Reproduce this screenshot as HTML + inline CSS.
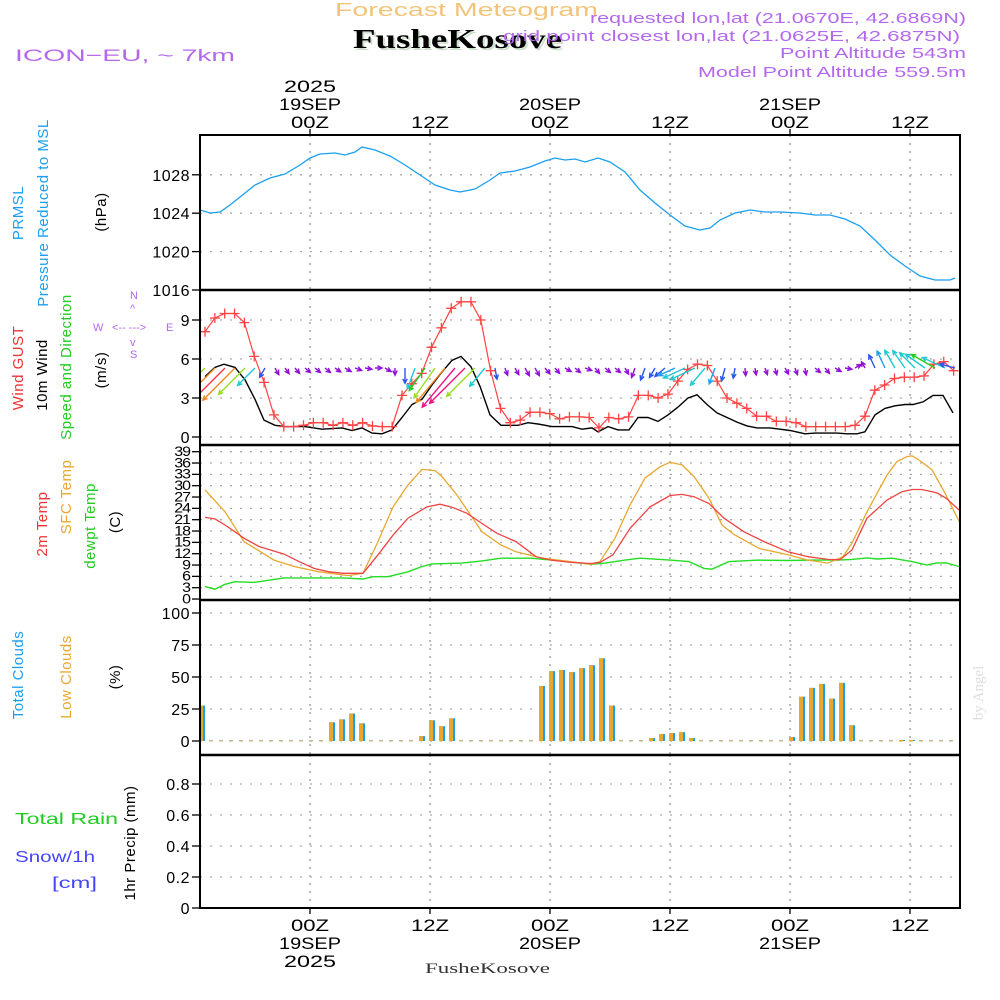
<!DOCTYPE html>
<html><head><meta charset="utf-8"><title>Forecast Meteogram FusheKosove</title>
<style>
html,body{margin:0;padding:0;background:#fff;}
svg{display:block;font-family:"Liberation Sans",sans-serif;}
</style></head>
<body>
<svg id="chart" width="1000" height="1000" viewBox="0 0 1000 1000" xmlns="http://www.w3.org/2000/svg">
<defs>
<clipPath id="cp1"><rect x="200" y="135" width="760" height="155"/></clipPath>
<clipPath id="cp2"><rect x="200" y="290" width="760" height="155"/></clipPath>
<clipPath id="cp3"><rect x="200" y="445" width="760" height="155"/></clipPath>
<clipPath id="cp4"><rect x="200" y="600" width="760" height="155"/></clipPath>
<clipPath id="cp5"><rect x="200" y="755" width="760" height="153"/></clipPath>
</defs>
<text x="335" y="16" font-size="18" fill="#f2c47a" textLength="263" lengthAdjust="spacingAndGlyphs">Forecast Meteogram</text>
<text x="355" y="50" font-size="27" font-weight="bold" fill="#cfe0cf" font-family="Liberation Serif,serif" textLength="209" lengthAdjust="spacingAndGlyphs">FusheKosove</text>
<text x="353" y="48" font-size="27" font-weight="bold" fill="#000" font-family="Liberation Serif,serif" textLength="209" lengthAdjust="spacingAndGlyphs">FusheKosove</text>
<text x="15" y="61" font-size="17" fill="#b468ee" textLength="220" lengthAdjust="spacingAndGlyphs">ICON−EU, ~ 7km</text>
<g font-size="14.5" fill="#b468ee">
<text x="590" y="23" textLength="376" lengthAdjust="spacingAndGlyphs">requested lon,lat (21.0670E, 42.6869N)</text>
<text x="503" y="41" textLength="457" lengthAdjust="spacingAndGlyphs">grid point closest lon,lat (21.0625E, 42.6875N)</text>
<text x="780" y="58" textLength="186" lengthAdjust="spacingAndGlyphs">Point Altitude 543m</text>
<text x="698" y="77" textLength="268" lengthAdjust="spacingAndGlyphs">Model Point Altitude 559.5m</text>
</g>
<g id="axes"></g>
<g id="labels" font-size="15"></g>
<text x="425" y="973" font-size="15" font-family="Liberation Serif,serif" fill="#333" textLength="125" lengthAdjust="spacingAndGlyphs">FusheKosove</text>
<text transform="translate(983,693) rotate(-90)" text-anchor="middle" font-size="15" fill="#ddd" font-family="Liberation Serif,serif">by Angel</text>
</svg>
<script>
// ---- data ----
const pTimes=[-11,-10,-9,-8,-7,-5.5,-4,-2.5,-1,0,1,2.5,3.5,4.5,5.2,6.5,8,9.5,11,12.5,14,15,16.5,18,19,20.5,22,23.5,24.5,25.5,26.5,27.5,28.8,30,31.5,33,34.5,36,37.5,39,40,41,42.5,44,45.5,47,49,50.5,52,53.5,55,56.5,58,59.5,61,62.5,64,64.5];
const pVals=[1024.33,1024.02,1024.13,1024.85,1025.69,1026.94,1027.67,1028.08,1029.02,1029.75,1030.17,1030.27,1030.06,1030.38,1030.9,1030.58,1029.96,1029.02,1027.98,1026.94,1026.42,1026.21,1026.52,1027.46,1028.19,1028.4,1028.81,1029.44,1029.75,1029.54,1029.65,1029.33,1029.75,1029.33,1028.29,1026.42,1025.06,1023.81,1022.67,1022.25,1022.46,1023.29,1024.02,1024.33,1024.13,1024.13,1024.02,1023.81,1023.81,1023.4,1022.67,1021.21,1019.65,1018.5,1017.46,1017.04,1017.04,1017.25];
const gustStart=-10.5, gustStep=0.985;
const gustVals=[8.1,9.15,9.5,9.5,8.8,6.2,4.2,1.7,0.8,0.8,0.9,1.1,1.1,0.9,1.1,0.9,1.1,0.85,0.8,0.8,3.2,4.1,4.9,6.9,8.4,9.9,10.4,10.4,9.0,5.1,2.2,1.1,1.3,1.9,1.9,1.8,1.4,1.55,1.55,1.5,0.7,1.5,1.4,1.55,3.2,3.2,3.0,3.3,4.3,5.2,5.6,5.5,4.3,3.0,2.6,2.2,1.6,1.6,1.2,1.2,1.1,0.8,0.8,0.8,0.8,0.8,0.9,1.6,3.6,4.0,4.5,4.6,4.6,4.7,5.6,5.8,5.1];
const windTimes=[-10.5,-9.5,-8.6,-7.5,-6.5,-5.5,-4.6,-3.5,-2.5,-0.5,1.2,3.2,4.2,5.2,6.2,7.2,8.2,9.2,10.2,11.2,12.2,13.2,14.2,15.1,16.1,17,18,19.1,20.8,21.8,22.8,24.2,26.2,27.2,28.2,28.8,29.8,30.8,31.9,32.8,33.8,34.8,35.8,36.8,37.8,38.7,39.7,40.7,41.7,42.7,43.7,44.7,46,47,48,49.5,50.5,51.7,52.7,53.7,54.7,55.5,56.5,57.5,58.5,59.5,60.3,61.3,62.3,63.3,64.3];
const windVals=[4.65,5.35,5.6,5.35,4.4,2.9,1.3,0.9,0.8,0.8,0.6,0.7,0.5,0.7,0.3,0.25,0.55,1.5,2.5,2.9,4.0,5.0,5.9,6.2,5.4,3.9,1.7,0.9,0.9,1.1,1.0,0.8,0.8,0.6,0.7,0.4,0.8,0.55,0.55,1.5,1.5,1.2,1.7,2.3,3.0,3.25,2.5,1.85,1.5,1.15,0.85,0.7,0.7,0.6,0.5,0.25,0.3,0.3,0.3,0.25,0.25,0.4,1.7,2.2,2.4,2.5,2.5,2.7,3.2,3.2,1.85];
const arrowStart=-10.5;
const windDir=[225,225,225,225,225,225,210,150,145,140,130,130,130,125,120,110,100,90,120,180,180,200,215,215,220,220,225,225,220,170,160,150,150,150,140,140,120,130,110,140,130,130,150,200,200,210,230,245,245,245,220,200,195,190,175,170,160,165,150,160,170,130,140,120,100,60,330,335,335,330,325,315,305,300,295,285];
const t2Times=[-10.5,-9.5,-8.5,-7.5,-6.6,-5.1,-2.6,-1.1,0.4,1.9,3.3,5.3,6.8,8.3,9.8,11.7,13,14.2,15.7,17.2,18.7,20.6,22.6,24.1,26.1,28.1,29,30.3,32,34,36,37.2,38.4,39.9,41.4,43.4,45.4,47.8,49.8,51.8,53,54.2,55.7,57.7,59.2,60.2,61.2,62.7,63.6,64.9];
const t2Vals=[21.6,21.2,19.6,17.8,16.1,13.9,11.9,9.9,8.1,7.2,6.8,6.8,11.7,16.9,21.4,24.4,25.1,24.3,22.7,20.0,17.4,15.2,11.2,10.3,9.7,9.4,9.7,11.7,18.7,24.4,27.4,27.7,27.1,25.3,21.4,17.8,15.2,12.5,11.2,10.5,10.4,13.0,21.4,26.2,28.4,29.0,29.0,28.1,26.7,23.6];
const sfcTimes=[-10.5,-8.5,-6.6,-3.6,-1.6,0.9,3.8,5.3,6.8,8.3,9.8,11.2,12.5,13.2,14.7,17.2,19.1,20.6,23.1,26.1,28.1,29,30.5,32,33.5,35,36,37.2,38.4,39.9,41.2,42.4,44.9,47.8,49.8,51.8,53.3,54.2,55.7,57.7,58.7,59.7,60.2,60.9,62.2,63.6,64.9];
const sfcVals=[28.9,23.1,15.2,10.3,8.6,7.2,6.2,6.8,15.2,24.4,30.2,34.3,34.0,32.4,27.5,17.8,14.3,12.5,10.9,9.9,9.2,9.9,16.1,24.9,32.0,35.0,36.2,35.5,32.4,26.7,19.6,17.1,13.4,11.7,10.3,9.5,11.2,14.8,23.1,32.8,36.4,37.7,37.9,36.8,34.2,27.5,20.6];
const dewTimes=[-10.5,-9.5,-8.5,-7.5,-5.6,-3.6,-2.6,0.4,3.3,5.3,6.3,7.8,9.8,11.2,12.2,15.2,17.2,19.1,22.1,25.1,28.1,29.5,31.5,33,36,37.9,39.4,40.2,41.9,44.9,47.8,50.3,52.8,54.2,55.7,56.7,58.2,60.2,61.7,62.6,63.6,64.9];
const dewVals=[3.3,2.6,3.9,4.6,4.4,5.2,5.6,5.6,5.6,5.3,5.9,5.9,7.2,8.6,9.3,9.5,10.1,10.8,10.8,10.1,9.2,9.5,10.3,10.8,10.3,9.9,8.1,7.9,9.9,10.3,10.2,10.3,10.3,10.5,10.9,10.6,10.8,9.9,9.0,9.5,9.6,8.6];
const cloudStart=-11;
const totalClouds=[27.7,0,0,0,0,0,0,0,0,0,0,0,0,14.6,16.9,21.5,13.8,0,0,0,0,0,3.8,16.2,11.5,17.7,0,0,0,0,0,0,0,0,43,54.6,55.4,53.8,56.9,59.2,64.6,27.7,0,0,0,2.3,5.4,6.2,6.9,2.3,0,0,0,0,0,0,0,0,0,3.1,34.6,41.5,44.6,33.1,45.4,12.3,0,0,0,0,0.8,0.8,0,0,0,0];
const lowClouds=[27.7,0,0,0,0,0,0,0,0,0,0,0,0,14.6,16.9,21.5,13.8,0,0,0,0,0,3.8,16.2,11.5,17.7,0,0,0,0,0,0,0,0,43,54.6,55.4,53.8,56.9,59.2,64.6,27.7,0,0,0,2.3,5.4,6.2,6.9,2.3,0,0,0,0,0,0,0,0,0,3.1,34.6,41.5,44.6,33.1,45.4,12.3,0,0,0,0,0.8,0.8,0,0,0,0];
const precipVals=[0,0,0,0,0,0,0,0,0,0,0,0,0,0,0,0,0,0,0,0,0,0,0,0,0,0,0,0,0,0,0,0,0,0,0,0,0,0,0,0,0,0,0,0,0,0,0,0,0,0,0,0,0,0,0,0,0,0,0,0,0,0,0,0,0,0,0,0,0,0,0,0,0,0,0,0];
const pTicks=[1016,1020,1024,1028];
const wTicks=[0,3,6,9];
const tTicks=[0,3,6,9,12,15,18,21,24,27,30,33,36,39];
const cTicks=[0,25,50,75,100];
const rTicks=[0,0.2,0.4,0.6,0.8];
const timeTicks=[0,12,24,36,48,60];
const timeLabels=["00Z","12Z","00Z","12Z","00Z","12Z"];
const dayLabels=["19SEP","","20SEP","","21SEP",""];

// ---- scales ----
const L=200,R=960;
const xS=h=>310+10*h;
const pY=v=>290-(v-1016)*9.6;
const wY=v=>437-v*13;
const tY=v=>587.7-(v-3)*3.778;
const cY=v=>741-v*1.28;
const rY=v=>908-v*155;
const NS="http://www.w3.org/2000/svg";
const svg=document.getElementById('chart');
const axes=document.getElementById('axes');
function mk(tag,attrs,parent){const e=document.createElementNS(NS,tag);for(const k in attrs)e.setAttribute(k,attrs[k]);(parent||axes).appendChild(e);return e;}
function line(d,pts,color,w,clip){const e=mk('path',{d:'M'+pts.map(p=>p[0].toFixed(1)+','+p[1].toFixed(1)).join('L'),fill:'none',stroke:color,'stroke-width':w,'clip-path':'url(#'+clip+')'});return e;}

const panels=[
 {top:135,bot:290,ticks:pTicks,y:pY,fmt:v=>String(v),clip:'cp1',name:'pressure'},
 {top:290,bot:445,ticks:wTicks,y:wY,fmt:v=>String(v),clip:'cp2',name:'wind'},
 {top:445,bot:600,ticks:tTicks,y:tY,fmt:v=>String(v),clip:'cp3',name:'temperature'},
 {top:600,bot:755,ticks:cTicks,y:cY,fmt:v=>String(v),clip:'cp4',name:'clouds'},
 {top:755,bot:908,ticks:rTicks,y:rY,fmt:v=>v===0?'0':v.toFixed(1),clip:'cp5',name:'precip'}
];
panels.forEach(p=>{
  const g=mk('g',{});
  
  
  timeTicks.forEach(t=>{
    const gl=mk('line',{x1:xS(t),x2:xS(t),y1:p.top,y2:p.bot,stroke:'#999','stroke-width':1.3,'stroke-dasharray':'2,6'},g);
    
    
  });
  p.ticks.forEach(v=>{
    const y=p.y(v);
    if(y>p.top+2&&y<p.bot-2){
      const hl=mk('line',{x1:L,x2:R,y1:y,y2:y,stroke:'#aaa','stroke-width':1.3,'stroke-dasharray':'2,8'},g);
      
      
    }
    if(y>=p.top-1&&y<=p.bot+1){
      mk('line',{x1:L-8,x2:L,y1:y,y2:y,stroke:'#000','stroke-width':1.3},g);
      const small=p.name==='temperature';
      const tx=mk('text',{x:L-10,y:y+(small?5:6),'text-anchor':'end','font-size':small?16:16,fill:'#000','letter-spacing':small?-1:0.5,transform:small?`translate(0,${y}) scale(1,0.85) translate(0,${-y})`:''},g);
      tx.textContent=p.fmt(v);
      
      
    }
  });
});
// ticks top and bottom time axis
function tlabel(x,y,txt,w,name){const t=mk('text',{x:x-w/2,y:y,'font-size':17,textLength:w,lengthAdjust:'spacingAndGlyphs'});t.textContent=txt;return t;}
timeTicks.forEach((t,i)=>{
  mk('line',{x1:xS(t),x2:xS(t),y1:129,y2:135,stroke:'#000','stroke-width':1.3});
  mk('line',{x1:xS(t),x2:xS(t),y1:908,y2:914,stroke:'#000','stroke-width':1.3});
  tlabel(xS(t),128,timeLabels[i],38,'top-time-label');
  tlabel(xS(t),931,timeLabels[i],38,'bottom-time-label');
  if(dayLabels[i]){
    tlabel(xS(t),110,dayLabels[i],62,'top-date-label');
    tlabel(xS(t),949,dayLabels[i],62,'bottom-date-label');
  }
});
tlabel(xS(0),92,'2025',52,'top-year-label');
tlabel(xS(0),967,'2025',52,'bottom-year-label');

// pressure
const pl=line('',pTimes.map((t,i)=>[xS(t),pY(pVals[i])]),'#1a9ff0',1.3,'cp1');



// wind speed
const wl=line('',windTimes.map((t,i)=>[xS(t),wY(windVals[i])]),'#000',1.4,'cp2');


// gust line + crosses
const gpts=gustVals.map((v,i)=>[xS(gustStart+i*gustStep),wY(v)]);
const gl=line('',gpts,'#ff4444',1.2,'cp2');


gpts.forEach(p=>{
  const c=mk('path',{d:`M${p[0]-5},${p[1]}h10M${p[0]},${p[1]-5}v10`,stroke:'#ff4444','stroke-width':1.3,'clip-path':'url(#cp2)'});
  
  
});
// wind arrows
function interpWind(h){for(let i=0;i<windTimes.length-1;i++){if(h>=windTimes[i]&&h<=windTimes[i+1]){const f=(h-windTimes[i])/(windTimes[i+1]-windTimes[i]);return windVals[i]+f*(windVals[i+1]-windVals[i]);}}return h<windTimes[0]?windVals[0]:windVals[windVals.length-1];}
function arrowColor(s){if(s<1.2)return '#9010d8';if(s<1.9)return '#2a55ee';if(s<2.3)return '#20a0ee';if(s<3.2)return '#20c8d0';if(s<4.2)return '#22cc22';if(s<4.8)return '#99dd22';if(s<5.4)return '#ee8822';if(s<5.8)return '#ff3344';return '#ee1188';}
windDir.forEach((d,i)=>{
  const h=arrowStart+i;const s=interpWind(h);
  const len=Math.max(7,s*8.5);const r=d*Math.PI/180;
  const x0=xS(h),y0=368;const x1=x0+Math.sin(r)*len,y1=y0-Math.cos(r)*len;
  const hl=5,a1=r+Math.PI-0.45,a2=r+Math.PI+0.45;
  const col=arrowColor(s);
  const ar=mk('path',{d:`M${x0.toFixed(1)},${y0}L${x1.toFixed(1)},${y1.toFixed(1)}M${(x1+Math.sin(a1)*hl).toFixed(1)},${(y1-Math.cos(a1)*hl).toFixed(1)}L${x1.toFixed(1)},${y1.toFixed(1)}L${(x1+Math.sin(a2)*hl).toFixed(1)},${(y1-Math.cos(a2)*hl).toFixed(1)}`,fill:'none',stroke:col,'stroke-width':1.4,'clip-path':'url(#cp2)'});
  
  
});

// temperatures
const dl=line('',dewTimes.map((t,i)=>[xS(t),tY(dewVals[i])]),'#22dd22',1.4,'cp3');


const sl=line('',sfcTimes.map((t,i)=>[xS(t),tY(sfcVals[i])]),'#e8a830',1.3,'cp3');


const tl=line('',t2Times.map((t,i)=>[xS(t),tY(t2Vals[i])]),'#ee4444',1.3,'cp3');



// clouds
totalClouds.forEach((v,i)=>{
  const h=cloudStart+i,x=xS(h);
  if(v>0){
    const b=mk('rect',{x:x-1,y:cY(v),width:6,height:cY(0)-cY(v),fill:'#1a9ff0','clip-path':'url(#cp4)'});
    
    
  }
  const lv=lowClouds[i];
  const o=mk('rect',{x:x-1,y:cY(lv)-(lv>0?0:1),width:4,height:Math.max(1.5,cY(0)-cY(lv)),fill:lv>0?'#e8a830':'#c8b890','clip-path':'url(#cp4)'});
  
  
});
// precip
precipVals.forEach((v,i)=>{
  const x=xS(cloudStart+1+i);
  const b=mk('rect',{x:x-2,y:rY(v)-1,width:5,height:Math.max(1,rY(0)-rY(v)),fill:'#22dd22','clip-path':'url(#cp5)'});
  
  
});

// frames
panels.forEach(p=>{
  const f=mk('rect',{x:L,y:p.top,width:R-L,height:p.bot-p.top,fill:'none',stroke:'#000','stroke-width':2});
  
  
});
[290,445,600,755].forEach(y=>{mk('line',{x1:L,x2:R,y1:y,y2:y,stroke:'#000','stroke-width':2.5});});

// left labels
const lab=document.getElementById('labels');
function vlab(x,y,txt,col,name){const t=mk('text',{transform:`translate(${x},${y}) rotate(-90)`,'text-anchor':'middle',fill:col,'letter-spacing':0.5},lab);t.textContent=txt;}
function hlab(x,y,txt,col,name,fs,w){const a={x:x,y:y,fill:col,'font-size':fs||15};if(w){a.textLength=w;a.lengthAdjust='spacingAndGlyphs';}const t=mk('text',a,lab);t.textContent=txt;}
vlab(23,213,'PRMSL','#1a9ff0','prmsl-label');
vlab(48,213,'Pressure Reduced to MSL','#1a9ff0','pressure-label');
vlab(106,212,'(hPa)','#000','hpa-unit-label');
vlab(23,368,'Wind GUST','#ee3333','wind-gust-label');
vlab(47,375,'10m Wind','#000','wind-10m-label');
vlab(71,367,'Speed and Direction','#22cc22','speed-direction-label');
vlab(106,370,'(m/s)','#000','ms-unit-label');
hlab(130,299,'N','#b468ee','compass-n',11);
hlab(93,331,'W','#b468ee','compass-w',11);
hlab(166,331,'E','#b468ee','compass-e',11);
hlab(112,331,'<-- --->','#b468ee','compass-arrows',11);
hlab(130,358,'S','#b468ee','compass-s',11);
hlab(130,312,'^','#b468ee','compass-up',11);
hlab(130,346,'v','#b468ee','compass-down',11);
vlab(47,524,'2m Temp','#ee3333','2m-temp-label');
vlab(71,497,'SFC Temp','#e8a830','sfc-temp-label');
vlab(95,526,'dewpt Temp','#22cc22','dewpt-label');
vlab(120,522,'(C)','#000','c-unit-label');
vlab(23,675,'Total Clouds','#1a9ff0','total-clouds-label');
vlab(71,677,'Low Clouds','#e8a830','low-clouds-label');
vlab(120,677,'(%)','#000','percent-unit-label');
hlab(15,824,'Total   Rain','#22cc22','total-rain-label',16,103);
hlab(15,862,'Snow/1h','#4444ff','snow-label',16,80);
hlab(52,888,'[cm]','#4444ff','cm-label',16,45);
vlab(135,843,'1hr Precip (mm)','#000','precip-unit-label');
</script>
</body></html>
